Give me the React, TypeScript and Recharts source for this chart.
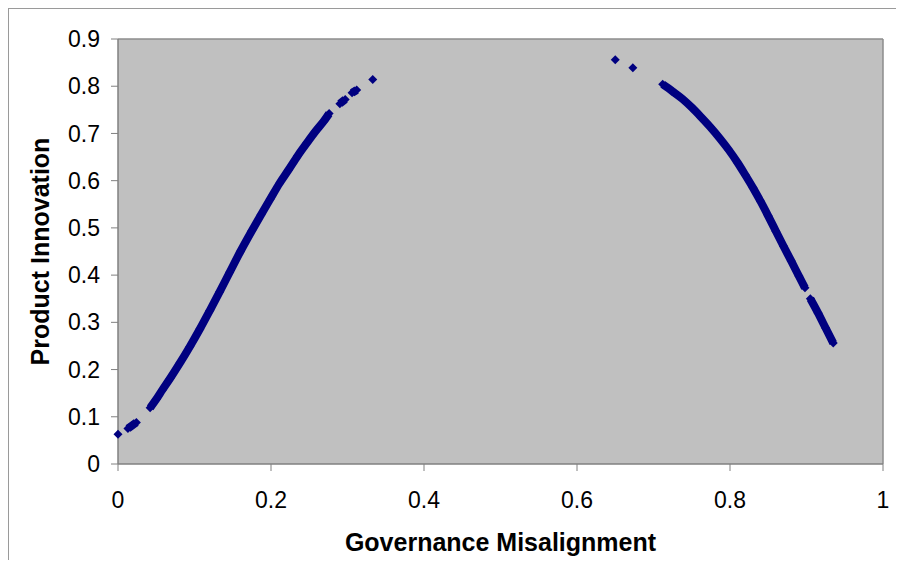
import {
  ScatterChart,
  Scatter,
  XAxis,
  YAxis,
  CartesianGrid
} from "recharts";

// [x, y]
const risingStart = [[0.0, 0.063]];
const risingDash = [[0.013, 0.075], [0.018, 0.081], [0.024, 0.088]];
const risingMain = [
  [0.042, 0.119], [0.05, 0.137], [0.058, 0.157], [0.068, 0.181],
  [0.081, 0.214], [0.094, 0.249], [0.107, 0.286], [0.12, 0.325],
  [0.133, 0.365], [0.146, 0.406], [0.16, 0.45], [0.175, 0.494],
  [0.187, 0.528], [0.199, 0.561], [0.211, 0.594], [0.223, 0.623],
  [0.235, 0.653], [0.247, 0.68], [0.258, 0.704], [0.269, 0.726],
  [0.276, 0.742]
];
const risingTailA = [[0.29, 0.763], [0.297, 0.772]];
const risingTailB = [[0.306, 0.786], [0.312, 0.792]];
const risingEnd = [[0.333, 0.814]];

const fallingDots = [[0.65, 0.856], [0.673, 0.839]];
const fallingMain = [
  [0.712, 0.804], [0.725, 0.789], [0.738, 0.773], [0.75, 0.755],
  [0.762, 0.735], [0.774, 0.714], [0.786, 0.691], [0.798, 0.666],
  [0.81, 0.638], [0.82, 0.612], [0.83, 0.585], [0.84, 0.556],
  [0.85, 0.525], [0.86, 0.493], [0.87, 0.461], [0.88, 0.43],
  [0.89, 0.398], [0.898, 0.373]
];
const fallingTail = [[0.905, 0.35], [0.915, 0.32], [0.925, 0.288], [0.935, 0.256]];

const xTicks = [0, 0.2, 0.4, 0.6, 0.8, 1];
const yTicks = [0, 0.1, 0.2, 0.3, 0.4, 0.5, 0.6, 0.7, 0.8, 0.9];

const NAVY = "#000080";
const FONT = "'Liberation Sans', Arial, sans-serif";

const toPts = (arr: number[][]) => arr.map(([x, y]) => ({ x, y }));

function Diamond(props: any) {
  const { cx, cy } = props;
  const r = 4.5;
  return (
    <path
      d={`M${cx},${cy - r}L${cx + r},${cy}L${cx},${cy + r}L${cx - r},${cy}Z`}
      fill={NAVY}
    />
  );
}

const segments = [
  risingStart,
  risingDash,
  risingMain,
  risingTailA,
  risingTailB,
  risingEnd,
  fallingDots,
  fallingMain,
  fallingTail
];

export default function App() {
  return (
    <div
      style={{
        width: 887,
        height: 551,
        borderTop: "1px solid #9a9a9a",
        borderLeft: "1px solid #9a9a9a",
        background: "#fff"
      }}
    >
      <ScatterChart
        width={887}
        height={551}
        margin={{ top: 30, right: 13, bottom: 0, left: 0 }}
      >
        <CartesianGrid
          fill="#C0C0C0"
          stroke="#8c8c8c"
          strokeWidth={1.5}
          horizontalCoordinatesGenerator={({ offset }: any) => [offset.top]}
          verticalCoordinatesGenerator={({ offset }: any) => [
            offset.left + offset.width
          ]}
        />
        <XAxis
          type="number"
          dataKey="x"
          domain={[0, 1]}
          ticks={xTicks}
          height={96}
          tickSize={7}
          tickMargin={21}
          axisLine={{ stroke: "#808080", strokeWidth: 1.5 }}
          tickLine={{ stroke: "#808080" }}
          tick={{ fill: "#000", fontSize: 23, fontFamily: FONT }}
          label={{
            value: "Governance Misalignment",
            position: "insideBottom",
            offset: 9,
            style: {
              fill: "#000",
              fontSize: 25,
              fontWeight: "bold",
              fontFamily: FONT
            }
          }}
        />
        <YAxis
          type="number"
          dataKey="y"
          domain={[0, 0.9]}
          ticks={yTicks}
          width={109}
          tickSize={7}
          tickMargin={11}
          axisLine={{ stroke: "#808080", strokeWidth: 1.5 }}
          tickLine={{ stroke: "#808080" }}
          tick={{ fill: "#000", fontSize: 23, fontFamily: FONT }}
          label={{
            value: "Product Innovation",
            angle: -90,
            position: "insideLeft",
            offset: 31,
            style: {
              textAnchor: "middle",
              fill: "#000",
              fontSize: 25,
              fontWeight: "bold",
              fontFamily: FONT
            }
          }}
        />
        {segments.map((seg, i) => (
          <Scatter
            key={i}
            data={toPts(seg)}
            fill={NAVY}
            shape={Diamond}
            line={
              seg.length > 1 && seg !== fallingDots
                ? { stroke: NAVY, strokeWidth: 8 }
                : false
            }
            lineJointType="monotoneX"
            isAnimationActive={false}
          />
        ))}
      </ScatterChart>
    </div>
  );
}
